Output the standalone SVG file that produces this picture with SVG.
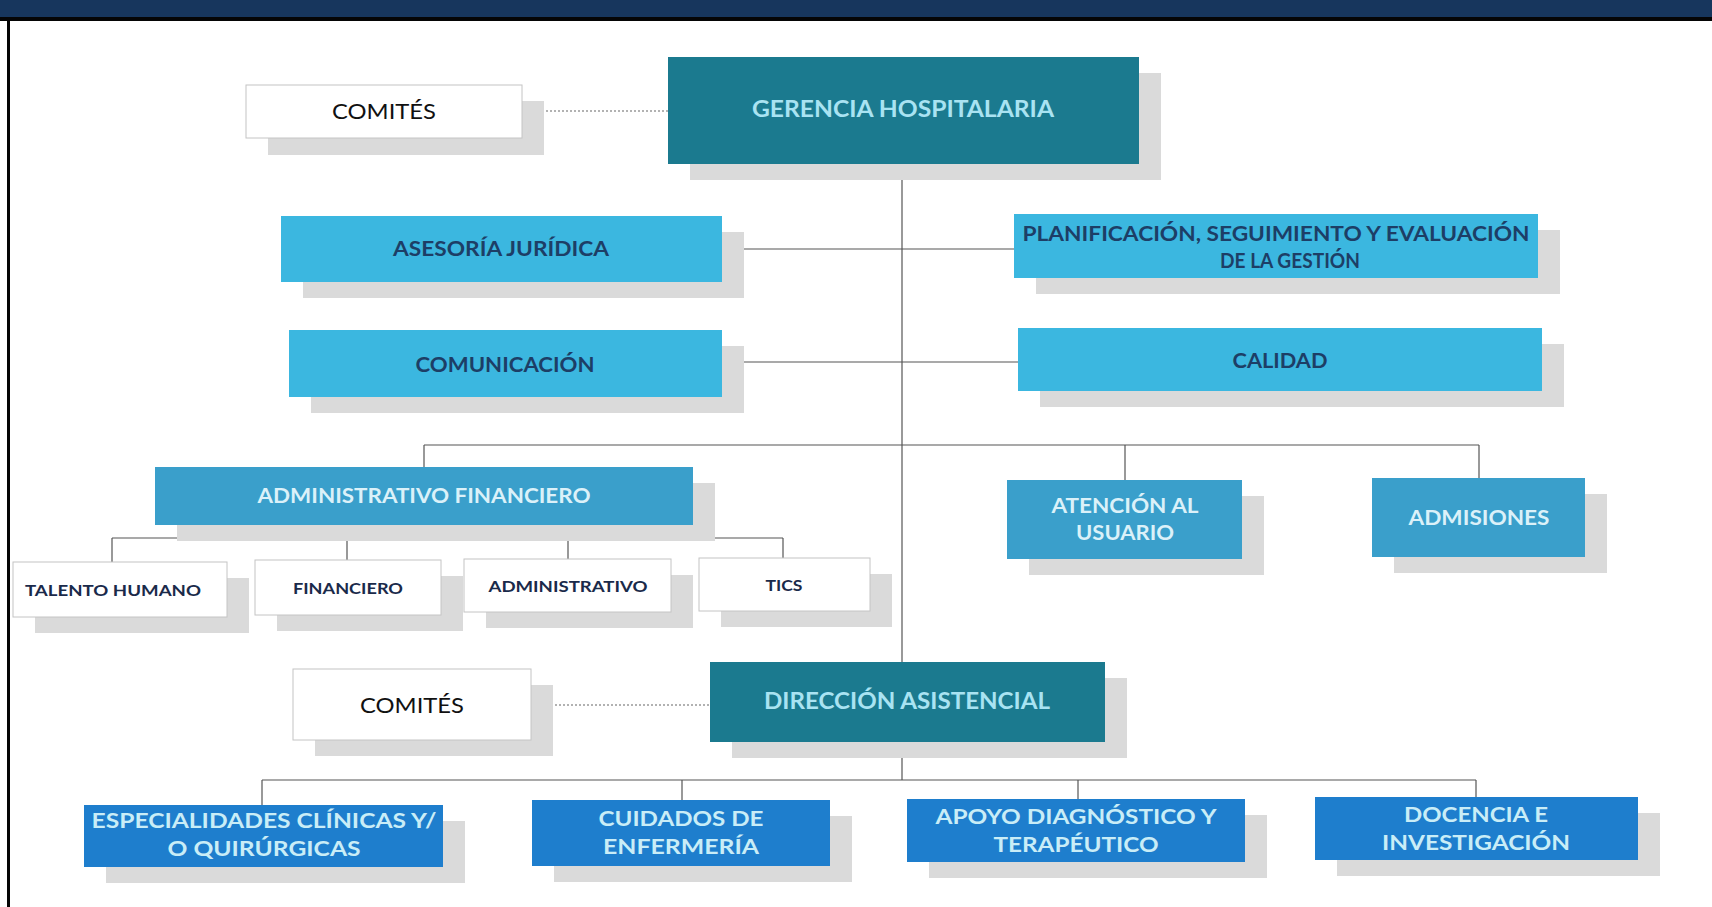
<svg xmlns="http://www.w3.org/2000/svg" width="1712" height="907" viewBox="0 0 1712 907">
<defs>
<style>
.sh{fill:#dadada}
.teal{fill:#1b7a8f}
.lb{fill:#3bb7e0}
.mb{fill:#3a9fcb}
.db{fill:#1e7ecd}
.wh{fill:#ffffff;stroke:#c4c4c4;stroke-width:1}
text{font-family:Lato,"Open Sans","Liberation Sans",sans-serif;font-weight:bold;text-anchor:middle}
.tl{fill:#a9e3f2;font-size:22px}
.td{fill:#1d3e66;font-size:20px}
.tm{fill:#dbf1f9;font-size:20px}
.tb{fill:#c9edf7;font-size:21px}
.tw{fill:#1a2a4a;font-size:16px}
.tc{fill:#111111;font-size:22px;font-weight:normal}
.ln{stroke:#555555;stroke-width:1.2;fill:none}
.dt{stroke:#666666;stroke-width:1.2;fill:none;stroke-dasharray:2 2}
</style>
</defs>
<rect x="0" y="0" width="1712" height="907" fill="#ffffff"/>
<rect x="0" y="0" width="1712" height="17" fill="#17365d"/>
<rect x="0" y="17" width="1712" height="4" fill="#050505"/>
<rect x="7" y="17" width="3" height="890" fill="#050505"/>

<g id="connectors">
<line class="dt" x1="522" y1="111" x2="668" y2="111"/>
<line class="dt" x1="531" y1="705" x2="710" y2="705"/>
<line class="ln" x1="902" y1="164" x2="902" y2="780"/>
<line class="ln" x1="722" y1="249" x2="1014" y2="249"/>
<line class="ln" x1="722" y1="362" x2="1018" y2="362"/>
<line class="ln" x1="424" y1="445" x2="1479" y2="445"/>
<line class="ln" x1="424" y1="445" x2="424" y2="538"/>
<line class="ln" x1="1125" y1="445" x2="1125" y2="480"/>
<line class="ln" x1="1479" y1="445" x2="1479" y2="478"/>
<line class="ln" x1="112" y1="538" x2="783" y2="538"/>
<line class="ln" x1="112" y1="538" x2="112" y2="562"/>
<line class="ln" x1="347" y1="538" x2="347" y2="560"/>
<line class="ln" x1="568" y1="538" x2="568" y2="559"/>
<line class="ln" x1="783" y1="538" x2="783" y2="558"/>
<line class="ln" x1="262" y1="780" x2="1476" y2="780"/>
<line class="ln" x1="262" y1="780" x2="262" y2="805"/>
<line class="ln" x1="682" y1="780" x2="682" y2="800"/>
<line class="ln" x1="1078" y1="780" x2="1078" y2="799"/>
<line class="ln" x1="1476" y1="780" x2="1476" y2="797"/>
</g>

<g id="comites-top">
<rect class="sh" x="268" y="101" width="276" height="54"/>
<rect class="wh" x="246" y="85" width="276" height="53"/>
<text class="tc" x="384" y="119" textLength="104" lengthAdjust="spacingAndGlyphs">COMITÉS</text>
</g>
<g id="gerencia">
<rect class="sh" x="690" y="73" width="471" height="107"/>
<rect class="teal" x="668" y="57" width="471" height="107"/>
<text class="tl" x="903" y="117" textLength="302" lengthAdjust="spacingAndGlyphs">GERENCIA HOSPITALARIA</text>
</g>
<g id="asesoria">
<rect class="sh" x="303" y="232" width="441" height="66"/>
<rect class="lb" x="281" y="216" width="441" height="66"/>
<text class="td" x="501" y="256" textLength="216" lengthAdjust="spacingAndGlyphs">ASESORÍA JURÍDICA</text>
</g>
<g id="planificacion">
<rect class="sh" x="1036" y="230" width="524" height="64"/>
<rect class="lb" x="1014" y="214" width="524" height="64"/>
<text class="td" x="1276" y="241" textLength="507" lengthAdjust="spacingAndGlyphs">PLANIFICACIÓN, SEGUIMIENTO Y EVALUACIÓN</text>
<text class="td" x="1290" y="268" textLength="140" lengthAdjust="spacingAndGlyphs">DE LA GESTIÓN</text>
</g>
<g id="comunicacion">
<rect class="sh" x="311" y="346" width="433" height="67"/>
<rect class="lb" x="289" y="330" width="433" height="67"/>
<text class="td" x="505" y="372" textLength="179" lengthAdjust="spacingAndGlyphs">COMUNICACIÓN</text>
</g>
<g id="calidad">
<rect class="sh" x="1040" y="344" width="524" height="63"/>
<rect class="lb" x="1018" y="328" width="524" height="63"/>
<text class="td" x="1280" y="368" textLength="95" lengthAdjust="spacingAndGlyphs">CALIDAD</text>
</g>
<g id="admin-financiero">
<rect class="sh" x="177" y="483" width="538" height="58"/>
<rect class="mb" x="155" y="467" width="538" height="58"/>
<text class="tm" x="424" y="503" textLength="333" lengthAdjust="spacingAndGlyphs">ADMINISTRATIVO FINANCIERO</text>
</g>
<g id="atencion">
<rect class="sh" x="1029" y="496" width="235" height="79"/>
<rect class="mb" x="1007" y="480" width="235" height="79"/>
<text class="tm" x="1125" y="513" textLength="147" lengthAdjust="spacingAndGlyphs">ATENCIÓN AL</text>
<text class="tm" x="1125" y="540" textLength="98" lengthAdjust="spacingAndGlyphs">USUARIO</text>
</g>
<g id="admisiones">
<rect class="sh" x="1394" y="494" width="213" height="79"/>
<rect class="mb" x="1372" y="478" width="213" height="79"/>
<text class="tm" x="1479" y="525" textLength="141" lengthAdjust="spacingAndGlyphs">ADMISIONES</text>
</g>
<g id="talento-humano">
<rect class="sh" x="35" y="578" width="214" height="55"/>
<rect class="wh" x="13" y="562" width="214" height="55"/>
<text class="tw" x="113" y="596" textLength="176" lengthAdjust="spacingAndGlyphs">TALENTO HUMANO</text>
</g>
<g id="financiero">
<rect class="sh" x="277" y="576" width="186" height="55"/>
<rect class="wh" x="255" y="560" width="186" height="55"/>
<text class="tw" x="348" y="594" textLength="110" lengthAdjust="spacingAndGlyphs">FINANCIERO</text>
</g>
<g id="administrativo">
<rect class="sh" x="486" y="575" width="207" height="53"/>
<rect class="wh" x="464" y="559" width="207" height="53"/>
<text class="tw" x="568" y="592" textLength="159" lengthAdjust="spacingAndGlyphs">ADMINISTRATIVO</text>
</g>
<g id="tics">
<rect class="sh" x="721" y="574" width="171" height="53"/>
<rect class="wh" x="699" y="558" width="171" height="53"/>
<text class="tw" x="784" y="591" textLength="37" lengthAdjust="spacingAndGlyphs">TICS</text>
</g>
<g id="comites-bottom">
<rect class="sh" x="315" y="685" width="238" height="71"/>
<rect class="wh" x="293" y="669" width="238" height="71"/>
<text class="tc" x="412" y="713" textLength="104" lengthAdjust="spacingAndGlyphs">COMITÉS</text>
</g>
<g id="direccion">
<rect class="sh" x="732" y="678" width="395" height="80"/>
<rect class="teal" x="710" y="662" width="395" height="80"/>
<text class="tl" x="907" y="709" textLength="286" lengthAdjust="spacingAndGlyphs">DIRECCIÓN ASISTENCIAL</text>
</g>
<g id="especialidades">
<rect class="sh" x="106" y="821" width="359" height="62"/>
<rect class="db" x="84" y="805" width="359" height="62"/>
<text class="tb" x="264" y="828" textLength="345" lengthAdjust="spacingAndGlyphs">ESPECIALIDADES CLÍNICAS Y/</text>
<text class="tb" x="264" y="856" textLength="193" lengthAdjust="spacingAndGlyphs">O QUIRÚRGICAS</text>
</g>
<g id="cuidados">
<rect class="sh" x="554" y="816" width="298" height="66"/>
<rect class="db" x="532" y="800" width="298" height="66"/>
<text class="tb" x="681" y="826" textLength="165" lengthAdjust="spacingAndGlyphs">CUIDADOS DE</text>
<text class="tb" x="681" y="854" textLength="156" lengthAdjust="spacingAndGlyphs">ENFERMERÍA</text>
</g>
<g id="apoyo">
<rect class="sh" x="929" y="815" width="338" height="63"/>
<rect class="db" x="907" y="799" width="338" height="63"/>
<text class="tb" x="1076" y="824" textLength="281" lengthAdjust="spacingAndGlyphs">APOYO DIAGNÓSTICO Y</text>
<text class="tb" x="1076" y="852" textLength="165" lengthAdjust="spacingAndGlyphs">TERAPÉUTICO</text>
</g>
<g id="docencia">
<rect class="sh" x="1337" y="813" width="323" height="63"/>
<rect class="db" x="1315" y="797" width="323" height="63"/>
<text class="tb" x="1476" y="822" textLength="144" lengthAdjust="spacingAndGlyphs">DOCENCIA E</text>
<text class="tb" x="1476" y="850" textLength="188" lengthAdjust="spacingAndGlyphs">INVESTIGACIÓN</text>
</g>
</svg>
